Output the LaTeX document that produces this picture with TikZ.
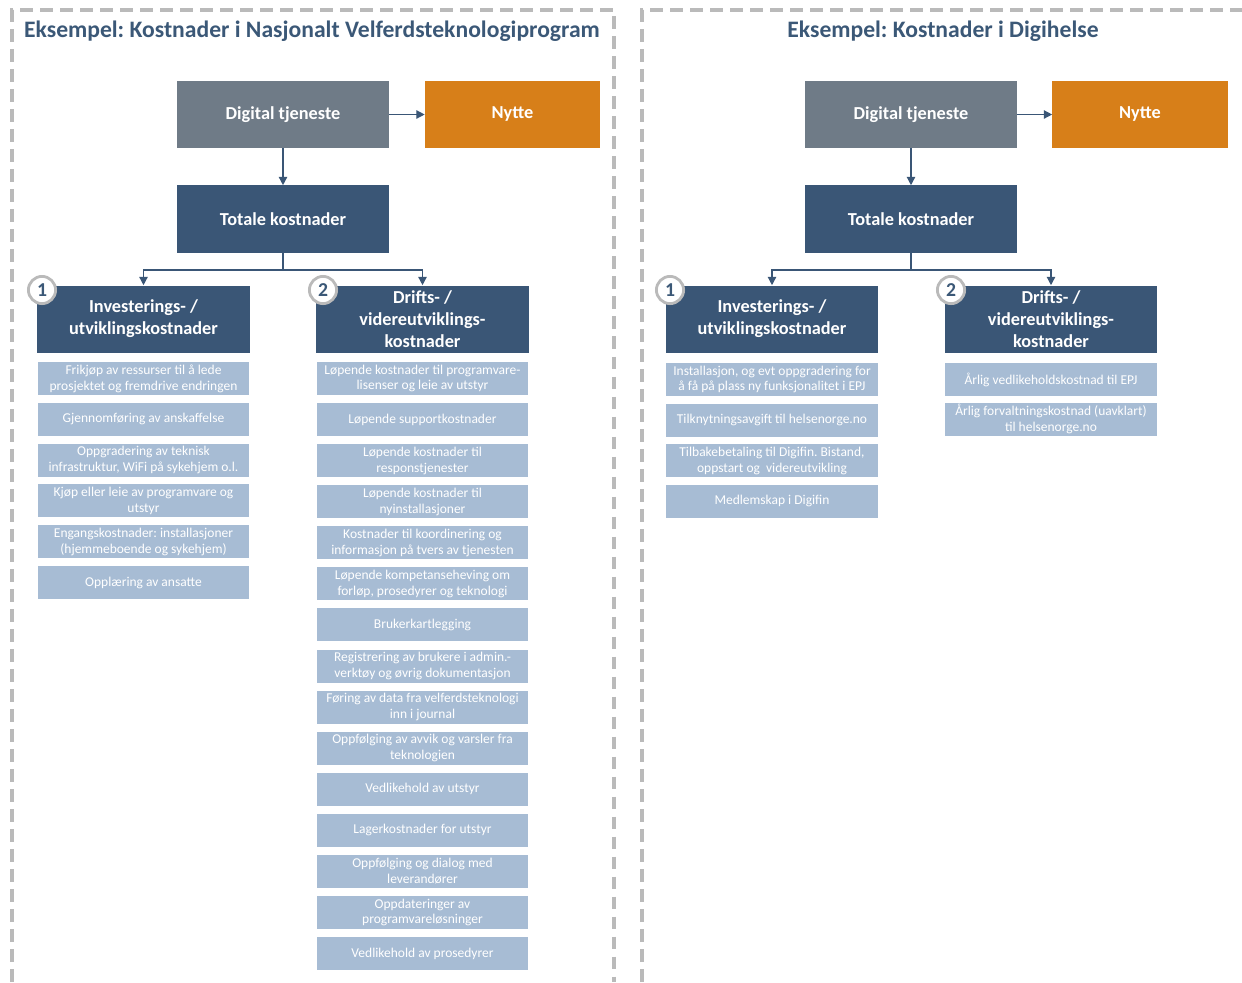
\documentclass[tikz,border=0pt]{standalone}
\usepackage{fontspec}
\setmainfont{Carlito}
\frenchspacing
\usetikzlibrary{positioning}
\usetikzlibrary{arrows.meta}
\definecolor{tjgray}{HTML}{6F7B87}
\definecolor{nytteorange}{HTML}{D77F19}
\definecolor{kostblue}{HTML}{3A5676}
\definecolor{lysblue}{HTML}{A7BCD4}
\definecolor{titleblue}{HTML}{3B5877}
\definecolor{rammegray}{HTML}{BABABA}
\tikzset{
box/.style={inner sep=0pt, align=center, text=white,
  font=\bfseries\fontsize{13}{15.6}\selectfont},
tjeneste/.style={box, fill=tjgray, minimum width=5.3cm, minimum height=1.675cm},
nytte/.style={box, fill=nytteorange, minimum width=4.375cm, minimum height=1.675cm},
kost/.style={box, fill=kostblue, minimum width=5.3cm, minimum height=1.675cm},
post/.style={inner sep=0pt, align=center, text=white, fill=lysblue,
  minimum width=5.275cm, minimum height=0.825cm,
  font=\fontsize{9.6}{11.3}\selectfont},
nummer/.style={circle, draw=rammegray, line width=2pt, fill=white,
  minimum size=0.68cm, inner sep=0pt, text=titleblue,
  font=\bfseries\fontsize{14}{14}\selectfont},
tittel/.style={text=titleblue, font=\bfseries\fontsize{16.8}{19}\selectfont},
ramme/.style={draw=rammegray, line width=2.3pt, dash pattern=on 0.32cm off 0.18cm},
pil/.style={draw=kostblue, line width=1pt, -{Triangle[length=6pt,width=6pt]}}
}
\begin{document}
\begin{tikzpicture}[x=0.025cm, y=-0.025cm]
\useasboundingbox (0,0) rectangle (1242,982);
% frames
\draw[ramme] (12,982) -- (12,10) -- (614,10) -- (614,982);
\draw[ramme] (642,982) -- (642,10) -- (1250,10);

% Velferdsteknologiprogram
\node[tittel] (tittel-v) at (312,31) {Eksempel: Kostnader i Nasjonalt Velferdsteknologiprogram};
\node[tjeneste] (tjeneste-v) at (283,114.5) {Digital tjeneste};
\node[nytte] (nytte-v) at (512.5,114.5) {Nytte};
\node[kost] (totale-v) at (283,219) {Totale kostnader};
\node[kost] (inv-v) at (143.5,319) {Investerings- /\\utviklingskostnader};
\node[kost] (drift-v) at (422.5,319) {Drifts- /\\videreutviklings-\\kostnader};
\node[nummer] (nr1-v) at (42,290) {1};
\node[nummer] (nr2-v) at (323,290) {2};
\draw[pil] (tjeneste-v) -- (nytte-v);
\draw[pil] (tjeneste-v) -- (totale-v);
\draw[pil] (totale-v.south) -- ++(0,17) -| (inv-v.north);
\draw[pil] (totale-v.south) -- ++(0,17) -| (drift-v.north);

\foreach \txt [count=\i] in {
  {Frikjøp av ressurser til å lede\\prosjektet og fremdrive endringen},
  {Gjennomføring av anskaffelse},
  {Oppgradering av teknisk\\infrastruktur, WiFi på sykehjem o.l.},
  {Kjøp eller leie av programvare og\\utstyr},
  {Engangskostnader: installasjoner\\(hjemmeboende og sykehjem)},
  {Opplæring av ansatte}}
  \node[post] (invv-\i) at (143.5,{378.5+40.8*(\i-1)}) {\txt};

\foreach \txt [count=\i] in {
  {Løpende kostnader til programvare-\\lisenser og leie av utstyr},
  {Løpende supportkostnader},
  {Løpende kostnader til\\responstjenester},
  {Løpende kostnader til\\nyinstallasjoner},
  {Kostnader til koordinering og\\informasjon på tvers av tjenesten},
  {Løpende kompetanseheving om\\forløp, prosedyrer og teknologi},
  {Brukerkartlegging},
  {Registrering av brukere i admin.-\\verktøy og øvrig dokumentasjon},
  {Føring av data fra velferdsteknologi\\inn i journal},
  {Oppfølging av avvik og varsler fra\\teknologien},
  {Vedlikehold av utstyr},
  {Lagerkostnader for utstyr},
  {Oppfølging og dialog med\\leverandører},
  {Oppdateringer av\\programvareløsninger},
  {Vedlikehold av prosedyrer}}
  \node[post] (driftv-\i) at (422.5,{378.5+41.07*(\i-1)}) {\txt};

% Digihelse
\node[tittel] (tittel-d) at (943,31) {Eksempel: Kostnader i Digihelse};
\node[tjeneste] (tjeneste-d) at (911,114.5) {Digital tjeneste};
\node[nytte] (nytte-d) at (1140,114.5) {Nytte};
\node[kost] (totale-d) at (911,219) {Totale kostnader};
\node[kost] (inv-d) at (772,319) {Investerings- /\\utviklingskostnader};
\node[kost] (drift-d) at (1051,319) {Drifts- /\\videreutviklings-\\kostnader};
\node[nummer] (nr1-d) at (670,290) {1};
\node[nummer] (nr2-d) at (951,290) {2};
\draw[pil] (tjeneste-d) -- (nytte-d);
\draw[pil] (tjeneste-d) -- (totale-d);
\draw[pil] (totale-d.south) -- ++(0,17) -| (inv-d.north);
\draw[pil] (totale-d.south) -- ++(0,17) -| (drift-d.north);

\foreach \txt [count=\i] in {
  {Installasjon, og evt oppgradering for\\å få på plass ny funksjonalitet i EPJ},
  {Tilknytningsavgift til helsenorge.no},
  {Tilbakebetaling til Digifin. Bistand,\\oppstart og\ \ videreutvikling},
  {Medlemskap i Digifin}}
  \node[post] (invd-\i) at (772,{379.5+40.6*(\i-1)}) {\txt};

\foreach \txt [count=\i] in {
  {Årlig vedlikeholdskostnad til EPJ},
  {Årlig forvaltningskostnad (uavklart)\\til helsenorge.no}}
  \node[post] (driftd-\i) at (1051,{379.5+39.5*(\i-1)}) {\txt};
\end{tikzpicture}
\end{document}
